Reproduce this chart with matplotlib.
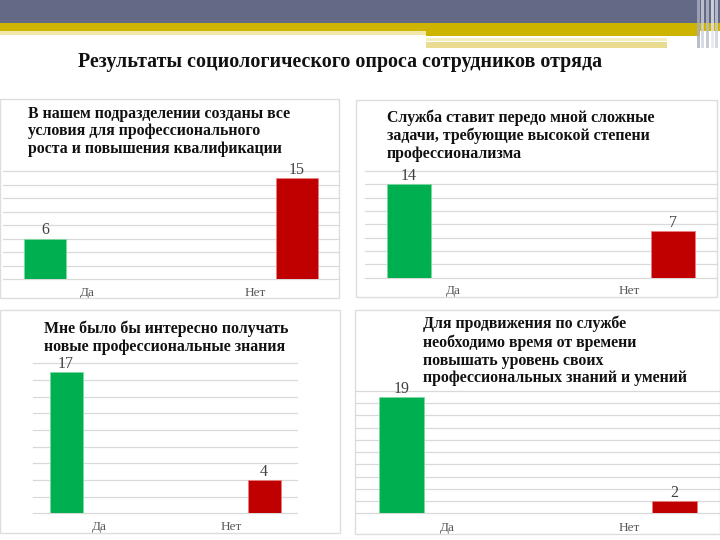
import numpy as np
import matplotlib
matplotlib.use('Agg')
import matplotlib.pyplot as plt
from matplotlib.patches import Rectangle

# Данные опроса
main_title = 'Результаты социологического опроса сотрудников отряда'
categories = ['Да', 'Нет']
titles = [
    'В нашем подразделении созданы все\nусловия для профессионального\nроста и повышения квалификации',
    'Служба ставит передо мной сложные\nзадачи, требующие высокой степени\nпрофессионализма',
    'Мне было бы интересно получать\nновые профессиональные знания',
    'Для продвижения по службе\nнеобходимо время от времени\nповышать уровень своих\nпрофессиональных знаний и умений',
]
counts_1 = [6, 15]
counts_2 = [14, 7]
counts_3 = [17, 4]
counts_4 = [19, 2]
all_counts = [counts_1, counts_2, counts_3, counts_4]

W, H = 720, 540
plt.rcParams['font.family'] = ['Liberation Serif', 'DejaVu Serif']

fig = plt.figure(figsize=(7.2, 5.4), dpi=100)
fig.patch.set_facecolor('white')


def frect(x0, y0, x1, y1, **kw):
    # прямоугольник в пикселях (y сверху вниз)
    fig.patches.append(Rectangle((x0 / W, 1 - y1 / H), (x1 - x0) / W, (y1 - y0) / H,
                                 transform=fig.transFigure, figure=fig, **kw))


# Шапка слайда
frect(0, 0, 720, 23.5, color='#646A86', lw=0)
frect(0, 23.5, 720, 31, color='#CDB400', lw=0)
frect(426, 31, 700, 35.7, color='#CDB400', lw=0)
frect(0, 31, 426, 35, color='#F1E7A8', lw=0)
frect(426, 38.3, 667, 40.7, color='#F4EDBE', lw=0)
frect(426, 41.7, 667, 48, color='#E9DC90', lw=0)
for x0, c in [(697, '#A9ADBF'), (701, '#D0D3DD'), (706, '#B9BDCC'), (711, '#E4E5EB'), (715, '#CACDD8')]:
    frect(x0, 0, x0 + 3, 48, color=c, lw=0, alpha=0.8)

fig.text(340 / W, 1 - 62 / H, main_title, ha='center', va='center',
         fontsize=14.4, fontweight='bold', color='#111111')

# Рамки панелей (пиксели)
frames = [(0, 99, 339, 298), (356, 100, 717, 297), (0, 310, 340, 533), (355, 310, 720, 534)]
for x0, y0, x1, y1 in frames:
    frect(x0, y0, x1, y1, facecolor='none', edgecolor='#DDDDDD', lw=1)

# Положение осей (пиксели): лево, право, верх, низ
axes_px = [(3, 339, 171, 279), (365, 717, 171, 277.7), (33, 297, 363.3, 513.3), (356, 720, 391, 513.3)]
y_tops = [16, 16, 18, 20]
title_pos = [(28, 105.5), (387, 109), (44, 320.5), (423, 316)]
label_pads = [6, 5.5, 5.5, 6.5]

for i in range(4):
    l, r, t, b = axes_px[i]
    ax = fig.add_axes([l / W, 1 - b / H, (r - l) / W, (b - t) / H])
    ax.set_facecolor('none')
    counts = all_counts[i]
    pos = np.arange(len(categories))
    xs = pos + np.array([-0.25, 0.25])
    bars = ax.bar(xs, counts, width=0.25, color=['#00B050', '#C00000'],
                  edgecolor=['#7ED9A0', '#E88080'], linewidth=0.6, zorder=3)
    ax.bar_label(bars, labels=[str(v) for v in counts], padding=0,
                 fontsize=11.5, color='#404040')
    ax.set_xlim(-0.5, 1.5)
    ax.set_ylim(0, y_tops[i])
    ax.set_yticks(np.arange(0, y_tops[i] + 1, 2))
    ax.set_yticklabels([])
    ax.set_xticks(pos)
    ax.set_xticklabels(categories, fontsize=9.5, color='#595959')
    ax.tick_params(length=0, pad=label_pads[i])
    ax.grid(axis='y', color='#D9D9D9', linewidth=0.9)
    for gl in ax.get_ygridlines():
        gl.set_clip_on(False)
    ax.set_axisbelow(True)
    for s in ax.spines.values():
        s.set_visible(False)
    tx, ty = title_pos[i]
    fig.text(tx / W, 1 - ty / H, titles[i], ha='left', va='top', fontsize=11.4,
             fontweight='bold', color='#111111', linespacing=1.15)

fig.savefig('out.png', dpi=100)
